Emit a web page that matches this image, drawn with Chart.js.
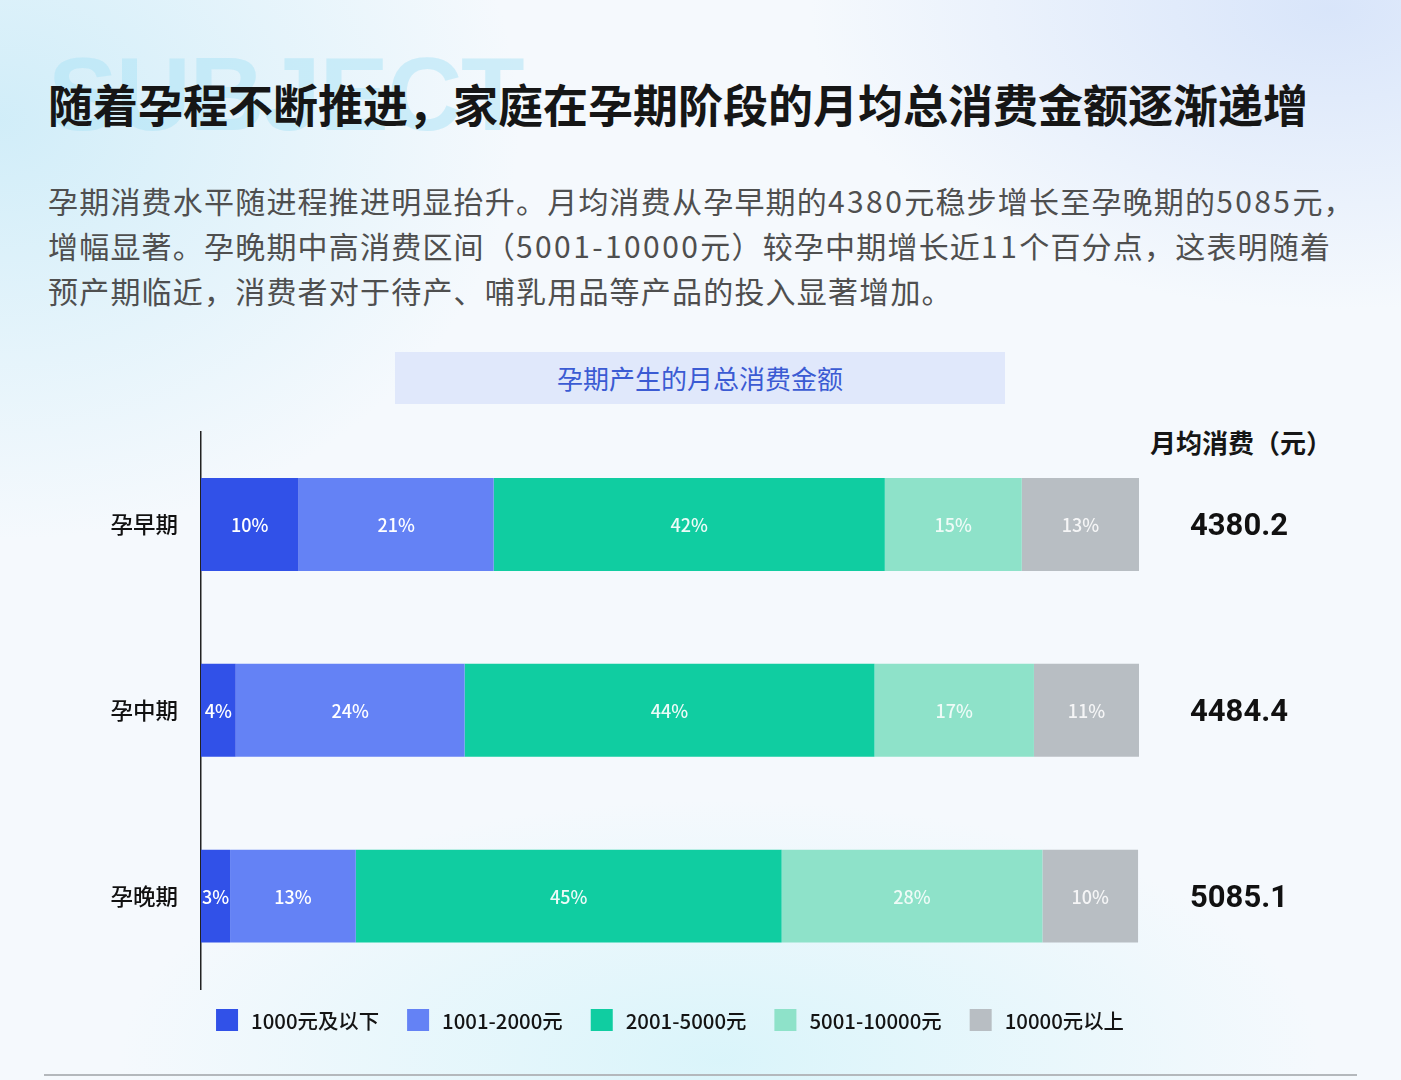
<!DOCTYPE html>
<html lang="zh-CN">
<head>
<meta charset="utf-8">
<title>孕期产生的月总消费金额</title>
<script src="https://cdn.jsdelivr.net/npm/chart.js@4.4.1/dist/chart.umd.min.js"></script>
<style>
  html, body { margin: 0; padding: 0; }
  body {
    width: 1401px; height: 1080px; position: relative; overflow: hidden;
    font-family: "Noto Sans CJK SC", "Noto Sans", sans-serif;
    background:
      radial-gradient(ellipse 520px 420px at 0px 120px, rgba(205,236,248,0.9), rgba(205,236,248,0) 100%),
      radial-gradient(ellipse 520px 300px at 1330px 10px, rgba(215,228,250,0.95), rgba(215,228,250,0) 100%),
      radial-gradient(ellipse 600px 260px at 720px 1060px, rgba(215,244,250,0.9), rgba(215,244,250,0) 100%),
      #f5f9fd;
  }
  .wm {
    position: absolute; left: 48px; top: 42px;
    font-family: "Liberation Sans", Arial, sans-serif; font-weight: bold;
    font-size: 104px; line-height: 1; letter-spacing: -1.5px;
    color: rgba(175, 228, 245, 0.55);
  }
  h1 {
    position: absolute; left: 48px; top: 77px; margin: 0;
    font-size: 45px; line-height: 1.2; font-weight: bold; color: #161616;
    white-space: nowrap;
  }
  .desc {
    position: absolute; left: 48px; top: 178px; margin: 0;
    font-size: 30px; line-height: 45px; color: #4f4f4f; letter-spacing: 1.2px;
    white-space: nowrap;
  }
  .desc .n { letter-spacing: 2.4px; }
  .boxtitle {
    position: absolute; left: 395px; top: 352px; width: 610px; height: 52px;
    background: #e0e8fb; color: #3b5bd3; font-size: 26px;
    line-height: 52px; text-align: center;
  }
  .sumhead {
    position: absolute; left: 1150px; top: 424px;
    font-size: 26px; font-weight: bold; color: #161616; line-height: 36px;
  }
  #wrap { position: absolute; left: 0; top: 395px; width: 1401px; height: 654px; }
  .rule { position: absolute; left: 44px; top: 1074px; width: 1313px; height: 2px; background: #b4b8bc; }
</style>
</head>
<body>
<div class="wm">SUBJECT</div>
<h1>随着孕程不断推进，家庭在孕期阶段的月均总消费金额逐渐递增</h1>
<p class="desc">孕期消费水平随进程推进明显抬升。月均消费从孕早期的<span class="n">4380</span>元稳步增长至孕晚期的<span class="n">5085</span>元，<br>增幅显著。孕晚期中高消费区间（<span class="n">5001-10000</span>元）较孕中期增长近<span class="n">11</span>个百分点，这表明随着<br>预产期临近，消费者对于待产、哺乳用品等产品的投入显著增加。</p>
<div class="boxtitle">孕期产生的月总消费金额</div>
<div class="sumhead">月均消费（元）</div>
<div id="wrap"><canvas id="c"></canvas></div>
<div class="rule"></div>

<script>
// stages and spending bands
const stages = ['孕早期', '孕中期', '孕晚期'];
const bands = ['1000元及以下', '1001-2000元', '2001-5000元', '5001-10000元', '10000元以上'];
const bandColors = ['#3151e8', '#6482f5', '#10cda1', '#8ee2c9', '#b8bec3'];
const labelColors = ['#ffffff', '#ffffff', 'rgba(255,255,255,0.92)', 'rgba(255,255,255,0.85)', 'rgba(255,255,255,0.85)'];

// share (%) per band, one array per band, in stage order
const under1000 = [10.4, 3.7, 3.1];
const from1001 = [20.8, 24.4, 13.4];
const from2001 = [41.7, 43.7, 45.4];
const from5001 = [14.6, 17.0, 27.8];
const over10000 = [12.5, 11.2, 10.2];

// monthly average spend per stage
const monthlyAvg = ['4380.2', '4484.4', '5085.1'];

const series = [under1000, from1001, from2001, from5001, over10000];

// percent text in the middle of each segment
const segLabels = {
  id: 'segLabels',
  afterDatasetsDraw(chart) {
    const ctx = chart.ctx;
    ctx.save();
    ctx.font = '500 18px "Noto Sans CJK SC", "Noto Sans", sans-serif';
    ctx.textAlign = 'center';
    ctx.textBaseline = 'middle';
    chart.data.datasets.forEach((ds, i) => {
      chart.getDatasetMeta(i).data.forEach((bar, j) => {
        ctx.fillStyle = labelColors[i];
        ctx.fillText(Math.round(ds.data[j]) + '%', (bar.x + bar.base) / 2, bar.y + 1);
      });
    });
    ctx.restore();
  }
};

// monthly totals to the right of the bars
const totals = {
  id: 'totals',
  afterDraw(chart) {
    const ctx = chart.ctx;
    const y = chart.scales.y;
    ctx.save();
    ctx.font = 'bold 31px Roboto, "Liberation Sans", sans-serif';
    ctx.fillStyle = '#111';
    ctx.textAlign = 'center';
    ctx.textBaseline = 'middle';
    stages.forEach((s, i) => {
      ctx.fillText(monthlyAvg[i], chart.chartArea.right + 100, y.getPixelForValue(i) + 3);
    });
    ctx.restore();
  }
};

// one-row legend under the plot, centred on the bars
const legendRow = {
  id: 'legendRow',
  afterDraw(chart) {
    const { ctx, chartArea } = chart;
    const box = 22, gapText = 13, gapItem = 28;
    ctx.save();
    ctx.font = '500 20.4px "Noto Sans CJK SC", sans-serif';
    ctx.textBaseline = 'middle';
    const items = chart.data.datasets.map(ds => ({
      text: ds.label,
      color: ds.backgroundColor,
      w: box + gapText + ctx.measureText(ds.label).width
    }));
    const total = items.reduce((s, it) => s + it.w, 0) + gapItem * (items.length - 1);
    let x = (chartArea.left + chartArea.right) / 2 - total / 2;
    const y = chartArea.bottom + 31;
    items.forEach(it => {
      ctx.fillStyle = it.color;
      ctx.fillRect(x, y - box / 2, box, box);
      ctx.fillStyle = '#141414';
      ctx.fillText(it.text, x + box + gapText, y + 1);
      x += it.w + gapItem;
    });
    ctx.restore();
  }
};

new Chart(document.getElementById('c'), {
  type: 'bar',
  data: {
    labels: stages,
    datasets: bands.map((b, i) => ({
      label: b,
      data: series[i],
      backgroundColor: bandColors[i],
      borderWidth: 0,
      barPercentage: 1,
      categoryPercentage: 0.5
    }))
  },
  options: {
    indexAxis: 'y',
    responsive: true,
    maintainAspectRatio: false,
    animation: false,
    layout: { padding: { top: 10, right: 262, left: 0, bottom: 60 } },
    scales: {
      x: { stacked: true, min: 0, max: 100, display: false },
      y: {
        stacked: true,
        grid: { display: false, drawTicks: false },
        border: { display: true, color: '#222', width: 1.5 },
        ticks: {
          color: '#111',
          padding: 23,
          font: { size: 22.5, weight: 500, family: '"Noto Sans CJK SC", sans-serif' }
        },
        afterFit(scale) { scale.width = 201; }
      }
    },
    plugins: {
      legend: { display: false },
      tooltip: { enabled: false }
    }
  },
  plugins: [segLabels, totals, legendRow]
});
</script>
</body>
</html>
